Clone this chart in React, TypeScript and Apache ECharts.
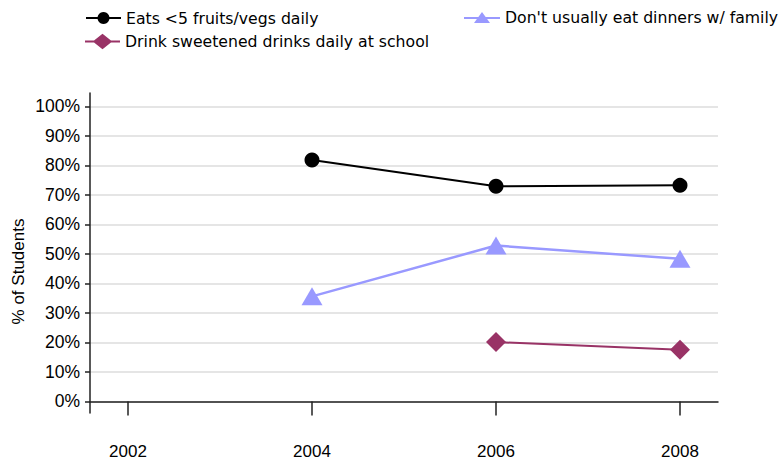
import React, { useEffect, useRef } from "react";
import * as echarts from "echarts";

const years = [2002, 2004, 2006, 2008];
const yTicks = [0, 10, 20, 30, 40, 50, 60, 70, 80, 90, 100];
const eatsFruit = [null, 81.8, 72.9, 73.2];
const noDinners = [null, 35.6, 52.8, 48.3];
const sweetDrinks = [null, null, 20.1, 17.5];
const seriesNames = [
  "Eats <5 fruits/vegs daily",
  "Don't usually eat dinners w/ family",
  "Drink sweetened drinks daily at school",
];

const toPairs = (vals: (number | null)[]) =>
  years.map((y, i) => [y, vals[i]]).filter((p) => p[1] !== null);

export default function App() {
  const ref = useRef<HTMLDivElement>(null);
  useEffect(() => {
    if (!ref.current) return;
    const chart = echarts.init(ref.current, null, { renderer: "svg" });
    const axisFont = "Liberation Sans, Arial, sans-serif";
    const legendText = { fontFamily: "DejaVu Sans, Verdana, sans-serif", fontSize: 15.7, color: "#000" };
    const triIcon = "path://M0,5 H36 V7 H0 Z M18,0 L26,11 L10,11 Z";
    const diaIcon = "path://M0,7 H36 V9 H0 Z M18,0 L28,8 L18,16 L8,8 Z";
    chart.setOption({
      animation: false,
      backgroundColor: "#fff",
      legend: [
        {
          data: [seriesNames[0]],
          left: 85,
          top: 10,
          itemWidth: 35,
          itemHeight: 15,
          padding: 0,
          textStyle: legendText,
        },
        {
          data: [{ name: seriesNames[2], icon: diaIcon, itemStyle: { color: "#993366" } }],
          left: 85,
          top: 33.5,
          itemWidth: 35,
          itemHeight: 16,
          padding: 0,
          textStyle: legendText,
        },
        {
          data: [{ name: seriesNames[1], icon: triIcon, itemStyle: { color: "#9999ff" } }],
          left: 464,
          top: 9.5,
          itemWidth: 36,
          itemHeight: 11,
          padding: 0,
          textStyle: legendText,
        },
      ],
      grid: { left: 90, top: 93, right: 62, bottom: 51, containLabel: false },
      xAxis: {
        type: "value",
        min: 2001.587,
        max: 2008.413,
        axisLine: { show: true, lineStyle: { color: "#222", width: 1.5 } },
        axisTick: { show: true, customValues: years, length: 14, lineStyle: { color: "#222", width: 1.5 } },
        axisLabel: {
          customValues: years,
          margin: 30,
          fontSize: 17,
          fontFamily: axisFont,
          color: "#000",
          formatter: (v: number) => String(v),
        },
        splitLine: { show: false },
      },
      yAxis: {
        type: "value",
        min: -3.93,
        max: 104.5,
        axisLine: { show: true, lineStyle: { color: "#222", width: 1.5 } },
        axisTick: { show: true, customValues: yTicks, length: 5, lineStyle: { color: "#222", width: 1.5 } },
        axisLabel: {
          customValues: yTicks,
          margin: 10,
          fontSize: 17.5,
          fontFamily: axisFont,
          color: "#000",
          formatter: (v: number) => v + "%",
        },
        splitLine: { show: true, lineStyle: { color: "#dddddd", width: 1.5 } },
      },
      graphic: [
        {
          type: "text",
          x: 18,
          y: 271.5,
          rotation: Math.PI / 2,
          style: {
            text: "% of Students",
            fontSize: 17,
            fontFamily: axisFont,
            fill: "#000",
            align: "center",
            verticalAlign: "middle",
          },
        },
      ],
      series: [
        {
          name: seriesNames[0],
          type: "line",
          data: toPairs(eatsFruit),
          symbol: "circle",
          symbolSize: 15,
          itemStyle: { color: "#000" },
          lineStyle: { color: "#000", width: 2 },
        },
        {
          name: seriesNames[1],
          type: "line",
          data: toPairs(noDinners),
          symbol: "triangle",
          symbolSize: [21, 18],
          itemStyle: { color: "#9999ff" },
          lineStyle: { color: "#9999ff", width: 2.5 },
        },
        {
          name: seriesNames[2],
          type: "line",
          data: toPairs(sweetDrinks),
          symbol: "diamond",
          symbolSize: 20,
          itemStyle: { color: "#993366" },
          lineStyle: { color: "#993366", width: 2 },
        },
      ],
    });
    return () => chart.dispose();
  }, []);
  return <div ref={ref} style={{ width: 780, height: 464, position: "absolute", left: 0, top: 0 }} />;
}
